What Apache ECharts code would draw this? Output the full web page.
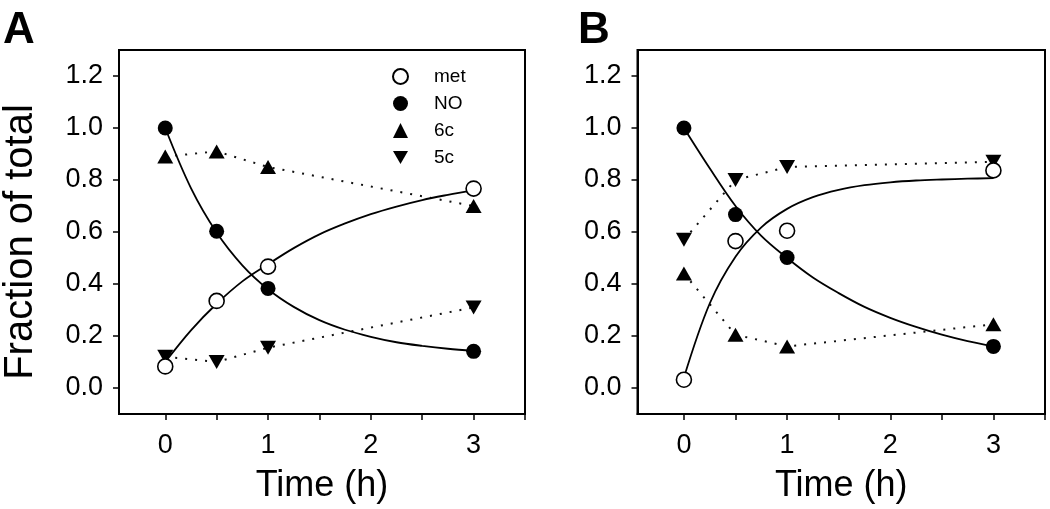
<!DOCTYPE html>
<html>
<head>
<meta charset="utf-8">
<script src="https://cdn.jsdelivr.net/npm/echarts@6/dist/echarts.min.js"></script>
<style>
html,body{margin:0;padding:0;background:#fff;}
#chart{width:1050px;height:509px;}
</style>
</head>
<body>
<div id="chart"></div>
<script>
// ---- data ----
const timePoints = [0, 0.5, 1, 3];
const A_met = [0.083, 0.335, 0.467, 0.767];
const A_NO  = [1.0, 0.603, 0.383, 0.141];
const A_6c  = [0.89, 0.91, 0.85, 0.70];
const A_5c  = [0.12, 0.10, 0.155, 0.31];
const B_met = [0.032, 0.565, 0.605, 0.837];
const B_NO  = [1.0, 0.667, 0.502, 0.16];
const B_6c  = [0.44, 0.205, 0.16, 0.245];
const B_5c  = [0.57, 0.80, 0.85, 0.87];

// fitted curves
const fitTime   = [0, 0.25, 0.5, 0.75, 1, 1.25, 1.5, 1.75, 2, 2.25, 2.5, 2.75, 3];
const A_NO_fit  = [1.0, 0.769, 0.598, 0.472, 0.380, 0.312, 0.261, 0.224, 0.197, 0.176, 0.162, 0.151, 0.143];
const A_met_fit = [0.10, 0.222, 0.324, 0.410, 0.476, 0.538, 0.591, 0.633, 0.669, 0.698, 0.723, 0.743, 0.761];
const B_NO_fit  = [1.0, 0.845, 0.70, 0.585, 0.50, 0.425, 0.365, 0.312, 0.27, 0.235, 0.205, 0.18, 0.16];
const B_met_fit = [0.04, 0.325, 0.505, 0.618, 0.689, 0.734, 0.762, 0.780, 0.791, 0.798, 0.802, 0.805, 0.807];

const xTicks  = [0, 0.5, 1, 1.5, 2, 2.5, 3, 3.5];
const xLabels = [0, 1, 2, 3];
const yTicks  = [0, 0.2, 0.4, 0.6, 0.8, 1.0, 1.2];
const panelLabels = ['A', 'B'];
const seriesNames = ['met', 'NO', '6c', '5c'];

const FONT = 'Liberation Sans, Arial, Helvetica, sans-serif';
const pair = (xs, ys) => xs.map((x, i) => [x, ys[i]]);

const chart = echarts.init(document.getElementById('chart'), null, {renderer: 'canvas'});

const grids = [
  {left: 117, top: 50, width: 408, height: 365},
  {left: 637.5, top: 50, width: 407.5, height: 365}
].map(g => Object.assign(g, {show: true, borderColor: '#000', borderWidth: 2, backgroundColor: '#fff'}));

function xAxis(i) {
  return {
    gridIndex: i, type: 'value', min: -0.45, max: 3.5,
    name: 'Time (h)', nameLocation: 'middle', nameGap: 54,
    nameTextStyle: {fontFamily: FONT, fontSize: 36, color: '#000'},
    axisLine: {show: true, onZero: false, lineStyle: {color: '#000', width: 2}},
    axisTick: {show: true, length: 6, customValues: xTicks, lineStyle: {color: '#000', width: 1.5}},
    axisLabel: {customValues: xLabels, margin: 18, fontFamily: FONT, fontSize: 27, color: '#000',
                formatter: v => String(v)},
    splitLine: {show: false}
  };
}
function yAxis(i) {
  const ax = {
    gridIndex: i, type: 'value', min: -0.1, max: 1.3,
    axisLine: {show: true, onZero: false, lineStyle: {color: '#000', width: 2}},
    axisTick: {show: true, length: 6, customValues: yTicks, lineStyle: {color: '#000', width: 1.5}},
    axisLabel: {customValues: yTicks, margin: 16, fontFamily: FONT, fontSize: 27, color: '#000',
                formatter: v => v.toFixed(1)},
    splitLine: {show: false}
  };
  if (i === 0) {
    ax.name = 'Fraction of total';
    ax.nameLocation = 'middle';
    ax.nameGap = 78;
    ax.nameRotate = 90;
    ax.nameTextStyle = {fontFamily: FONT, fontSize: 40, color: '#000', padding: [0, 20, 0, 0]};
  }
  return ax;
}

const DOWN_TRI = 'path://M0,0L16,0L8,14Z';
const markerStyle = {
  met: {symbol: 'circle', symbolSize: 15, itemStyle: {color: '#fff', borderColor: '#000', borderWidth: 1.6, opacity: 1}},
  NO:  {symbol: 'circle', symbolSize: 15, itemStyle: {color: '#000', borderColor: '#000', borderWidth: 0, opacity: 1}},
  '6c': {symbol: 'triangle', symbolSize: [16, 14], itemStyle: {color: '#000', opacity: 1}},
  '5c': {symbol: DOWN_TRI, symbolSize: [16, 14], itemStyle: {color: '#000', opacity: 1}}
};

function scatter(name, ys, gi) {
  const st = markerStyle[name];
  return Object.assign({
    type: 'scatter', name: name, xAxisIndex: gi, yAxisIndex: gi, z: 5,
    data: pair(timePoints, ys), silent: true
  }, JSON.parse(JSON.stringify(st)));
}
function dotted(name, ys, gi) {
  return {
    type: 'line', name: name + '-link-' + gi, xAxisIndex: gi, yAxisIndex: gi, z: 2,
    data: pair(timePoints, ys), showSymbol: false, symbol: 'none', silent: true,
    lineStyle: {color: '#111', width: 2, type: [2, 8]}
  };
}
function fit(name, ys, gi) {
  return {
    type: 'line', name: name + '-fit-' + gi, xAxisIndex: gi, yAxisIndex: gi, z: 3,
    data: pair(fitTime, ys), showSymbol: false, symbol: 'none', smooth: 0.35, silent: true,
    lineStyle: {color: '#000', width: 1.8}
  };
}

const panels = [
  {met: A_met, NO: A_NO, c6: A_6c, c5: A_5c, NOfit: A_NO_fit, metfit: A_met_fit},
  {met: B_met, NO: B_NO, c6: B_6c, c5: B_5c, NOfit: B_NO_fit, metfit: B_met_fit}
];

const series = [];
panels.forEach((p, gi) => {
  series.push(dotted('6c', p.c6, gi));
  series.push(dotted('5c', p.c5, gi));
  series.push(fit('NO', p.NOfit, gi));
  series.push(fit('met', p.metfit, gi));
  series.push(scatter('6c', p.c6, gi));
  series.push(scatter('5c', p.c5, gi));
  series.push(scatter('NO', p.NO, gi));
  series.push(scatter('met', p.met, gi));
});

const option = {
  backgroundColor: '#fff',
  animation: false,
  title: panelLabels.map((t, i) => ({
    text: t, left: i === 0 ? 3 : 578, top: 9, padding: 0,
    textStyle: {fontFamily: FONT, fontSize: 44, fontWeight: 'bold', color: '#000'}
  })),
  legend: {
    data: seriesNames, orient: 'vertical', left: 392, top: 67, padding: 0,
    itemWidth: 15, itemHeight: 15, itemGap: 8, selectedMode: false,
    textStyle: {fontFamily: FONT, fontSize: 19, color: '#000', lineHeight: 19, padding: [0, 0, 0, 21]}
  },
  grid: grids,
  xAxis: [xAxis(0), xAxis(1)],
  yAxis: [yAxis(0), yAxis(1)],
  series: series
};
chart.setOption(option);
</script>
</body>
</html>
